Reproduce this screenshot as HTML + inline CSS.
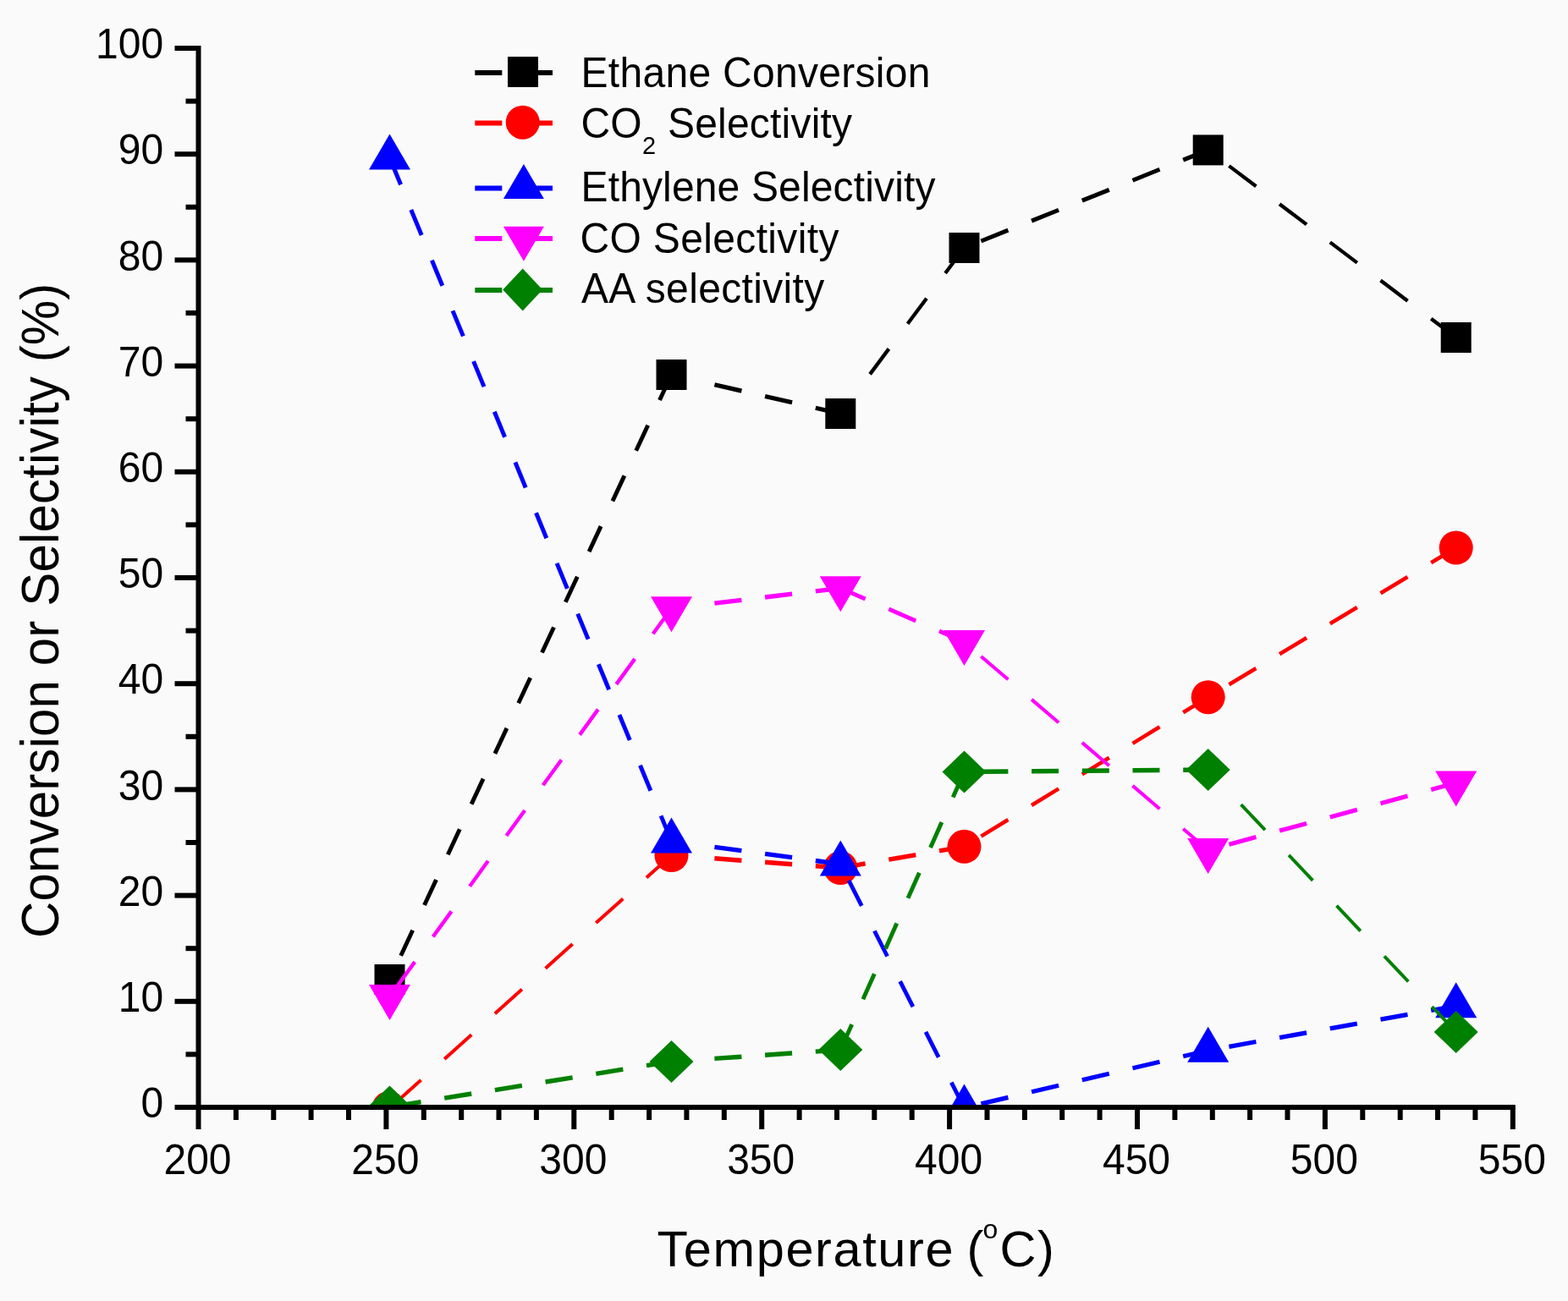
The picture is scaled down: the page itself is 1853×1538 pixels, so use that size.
<!DOCTYPE html>
<html><head><meta charset="utf-8"><title>Ethane conversion and product selectivity vs temperature</title>
<style>
html,body{margin:0;padding:0;background:#fafafa;}
body{width:1853px;height:1538px;overflow:hidden;}
svg{display:block;}
text{font-family:'Liberation Sans', Arial, sans-serif;fill:#000;}
</style></head><body>
<svg width="1853" height="1538" viewBox="0 0 1853 1538">
<rect width="1853" height="1538" fill="#fafafa"/>
<defs><clipPath id="plot"><rect x="234.5" y="0" width="1557.3" height="1309"/></clipPath></defs>
<g clip-path="url(#plot)">
<g fill="none" stroke="#000000"><path d="M793.5 443L779.5 473M765.7 502.7L751.7 532.7M737.9 562.4L723.9 592.4M710.1 622.1L696.1 652.1M682.3 681.8L668.3 711.8M654.5 741.5L640.5 771.5M626.7 801.2L612.7 831.2M598.9 860.9L584.9 890.9M571.1 920.6L557.1 950.6M543.3 980.3L529.3 1010.3M515.5 1040L501.5 1070M487.7 1099.7L473.7 1129.7" stroke-width="4.90"/><path d="M993.3 489L963.8 482.2M936.1 475.8L904.1 468.5M876.4 462.1L844.4 454.7" stroke-width="5.26"/><path d="M1139.5 293L1117.1 323M1095 352.7L1072.6 382.7M1050.4 412.4L1028.1 442.4" stroke-width="4.33"/><path d="M1427.7 177.4L1398.2 189.2M1370.5 200.3L1338.5 213.2M1310.8 224.3L1278.8 237.1M1251.1 248.2L1219.1 261.1M1191.4 272.2L1159.4 285" stroke-width="5.01"/><path d="M1720.7 399L1691.2 376.7M1663.5 355.7L1631.5 331.5M1603.8 310.6L1571.8 286.4M1544.1 265.4L1512.1 241.2M1484.4 220.3L1452.4 196.1" stroke-width="4.31"/></g>
<g><rect x="442.5" y="1140" width="36" height="36" fill="#000000"/><rect x="775.5" y="425" width="36" height="36" fill="#000000"/><rect x="975.3" y="471" width="36" height="36" fill="#000000"/><rect x="1121.5" y="275" width="36" height="36" fill="#000000"/><rect x="1409.7" y="159.4" width="36" height="36" fill="#000000"/><rect x="1702.7" y="381" width="36" height="36" fill="#000000"/></g>
<g fill="none" stroke="#ff0000"><path d="M793.5 1011L764 1037.5M736.3 1062.4L704.3 1091.1M676.6 1116L644.6 1144.7M616.9 1169.6L584.9 1198.3M557.2 1223.2L525.2 1251.9M497.5 1276.8L465.5 1305.5" stroke-width="4.02"/><path d="M993.3 1026L963.8 1023.8M936.1 1021.7L904.1 1019.3M876.4 1017.2L844.4 1014.8" stroke-width="5.38"/><path d="M1139.5 1000.8L1110 1005.9M1082.3 1010.7L1050.3 1016.2M1022.6 1020.9L993.3 1026" stroke-width="5.32"/><path d="M1427.7 824.2L1398.2 842.3M1370.5 859.3L1338.5 878.9M1310.8 895.8L1278.8 915.4M1251.1 932.4L1219.1 952M1191.4 969L1159.4 988.6" stroke-width="4.60"/><path d="M1720.7 647.5L1691.2 665.3M1663.5 682L1631.5 701.3M1603.8 718L1571.8 737.3M1544.1 754L1512.1 773.3M1484.4 790L1452.4 809.3" stroke-width="4.62"/></g>
<g><circle cx="459.5" cy="1310" r="20" fill="#ff0000"/><circle cx="793.5" cy="1011" r="20" fill="#ff0000"/><circle cx="993.3" cy="1026" r="20" fill="#ff0000"/><circle cx="1139.5" cy="1000.8" r="20" fill="#ff0000"/><circle cx="1427.7" cy="824.2" r="20" fill="#ff0000"/><circle cx="1720.7" cy="647.5" r="20" fill="#ff0000"/></g>
<g fill="none" stroke="#0000ff"><path d="M793.5 994.4L781.1 964.4M768.9 934.7L756.5 904.7M744.3 875L731.9 845M719.7 815.3L707.3 785.3M695.1 755.6L682.7 725.6M670.4 695.9L658.1 665.9M645.8 636.2L633.5 606.2M621.2 576.5L608.9 546.5M596.6 516.8L584.3 486.8M572 457.1L559.6 427.1M547.4 397.4L535 367.4M522.8 337.7L510.4 307.7M498.2 278L485.8 248M473.6 218.3L461.2 188.3" stroke-width="4.99"/><path d="M993.3 1021.5L963.8 1017.5M936.1 1013.7L904.1 1009.4M876.4 1005.6L844.4 1001.3" stroke-width="5.35"/><path d="M1139.5 1309.6L1124.3 1279.6M1109.2 1249.9L1094 1219.9M1078.9 1190.2L1063.7 1160.2M1048.6 1130.5L1033.4 1100.5M1018.3 1070.8L1003.1 1040.8" stroke-width="4.82"/><path d="M1427.7 1241.7L1398.2 1248.7M1370.5 1255.2L1338.5 1262.7M1310.8 1269.2L1278.8 1276.8M1251.1 1283.3L1219.1 1290.8M1191.4 1297.4L1159.4 1304.9" stroke-width="5.26"/><path d="M1720.7 1189.2L1691.2 1194.5M1663.5 1199.4L1631.5 1205.2M1603.8 1210.1L1571.8 1215.9M1544.1 1220.8L1512.1 1226.6M1484.4 1231.5L1452.4 1237.3" stroke-width="5.32"/></g>
<g><polygon points="460.5,158.6 485,200.6 436,200.6" fill="#0000ff"/><polygon points="793.5,966.4 818,1008.4 769,1008.4" fill="#0000ff"/><polygon points="993.3,993.5 1017.8,1035.5 968.8,1035.5" fill="#0000ff"/><polygon points="1139.5,1281.6 1164,1323.6 1115,1323.6" fill="#0000ff"/><polygon points="1427.7,1213.7 1452.2,1255.7 1403.2,1255.7" fill="#0000ff"/><polygon points="1720.7,1161.2 1745.2,1203.2 1696.2,1203.2" fill="#0000ff"/></g>
<g fill="none" stroke="#ff00ff"><path d="M793.5 719.2L771.7 749.2M750.2 778.9L728.4 808.9M706.8 838.6L685.1 868.6M663.5 898.3L641.7 928.3M620.2 958L598.4 988M576.8 1017.7L555.1 1047.7M533.5 1077.4L511.7 1107.4M490.2 1137.1L468.4 1167.1" stroke-width="4.37"/><path d="M993.3 695.3L963.8 698.8M936.1 702.1L904.1 706M876.4 709.3L844.4 713.1" stroke-width="5.36"/><path d="M1139.5 759L1110 746.1M1082.3 734.1L1050.3 720.1M1022.6 708.1L993.3 695.3" stroke-width="4.95"/><path d="M1427.7 1005L1398.2 979.8M1370.5 956.2L1338.5 928.9M1310.8 905.2L1278.8 877.9M1251.1 854.3L1219.1 826.9M1191.4 803.3L1159.4 776" stroke-width="4.11"/><path d="M1720.7 925.6L1691.2 933.6M1663.5 941.1L1631.5 949.8M1603.8 957.3L1571.8 966M1544.1 973.5L1512.1 982.1M1484.4 989.6L1452.4 998.3" stroke-width="5.21"/></g>
<g><polygon points="460.5,1206 485,1164 436,1164" fill="#ff00ff"/><polygon points="793.5,747.2 818,705.2 769,705.2" fill="#ff00ff"/><polygon points="993.3,723.3 1017.8,681.3 968.8,681.3" fill="#ff00ff"/><polygon points="1139.5,787 1164,745 1115,745" fill="#ff00ff"/><polygon points="1427.7,1033 1452.2,991 1403.2,991" fill="#ff00ff"/><polygon points="1720.7,953.6 1745.2,911.6 1696.2,911.6" fill="#ff00ff"/></g>
<g fill="none" stroke="#008000"><path d="M793.5 1255L764 1259.7M736.3 1264.2L704.3 1269.4M676.6 1273.8L644.6 1279M616.9 1283.4L584.9 1288.6M557.2 1293L525.2 1298.2M497.5 1302.6L465.5 1307.8" stroke-width="5.33"/><path d="M993.3 1241L963.8 1243.1M936.1 1245L904.1 1247.3M876.4 1249.2L844.4 1251.4" stroke-width="5.39"/><path d="M1139.5 912.4L1126.2 942.4M1112.9 972.1L1099.6 1002.1M1086.4 1031.8L1073 1061.8M1059.8 1091.5L1046.5 1121.5M1033.3 1151.2L1019.9 1181.2M1006.7 1210.9L993.3 1240.9" stroke-width="4.93"/><path d="M1427.7 910L1398.2 910.2M1370.5 910.5L1338.5 910.7M1310.8 911L1278.8 911.2M1251.1 911.5L1219.1 911.7M1191.4 912L1159.4 912.2" stroke-width="5.40"/><path d="M1720.7 1220L1692.3 1190M1664.3 1160.3L1635.9 1130.3M1607.8 1100.6L1579.5 1070.6M1551.4 1040.9L1523.1 1010.9M1495 981.2L1466.6 951.2" stroke-width="3.92"/></g>
<g><polygon points="460.5,1283.6 486.5,1308.6 460.5,1333.6 434.5,1308.6" fill="#008000"/><polygon points="793.5,1230 819.5,1255 793.5,1280 767.5,1255" fill="#008000"/><polygon points="993.3,1216 1019.3,1241 993.3,1266 967.3,1241" fill="#008000"/><polygon points="1139.5,887.4 1165.5,912.4 1139.5,937.4 1113.5,912.4" fill="#008000"/><polygon points="1427.7,885 1453.7,910 1427.7,935 1401.7,910" fill="#008000"/><polygon points="1720.7,1195 1746.7,1220 1720.7,1245 1694.7,1220" fill="#008000"/></g>
</g>
<g stroke="#000" stroke-width="6"><line x1="234.5" y1="54" x2="234.5" y2="1312"/><line x1="231.5" y1="1309" x2="1790.8" y2="1309"/><line x1="206.5" y1="1309" x2="234.5" y2="1309"/><line x1="219.5" y1="1246.4" x2="234.5" y2="1246.4"/><line x1="206.5" y1="1183.8" x2="234.5" y2="1183.8"/><line x1="219.5" y1="1121.2" x2="234.5" y2="1121.2"/><line x1="206.5" y1="1058.6" x2="234.5" y2="1058.6"/><line x1="219.5" y1="996" x2="234.5" y2="996"/><line x1="206.5" y1="933.4" x2="234.5" y2="933.4"/><line x1="219.5" y1="870.8" x2="234.5" y2="870.8"/><line x1="206.5" y1="808.2" x2="234.5" y2="808.2"/><line x1="219.5" y1="745.6" x2="234.5" y2="745.6"/><line x1="206.5" y1="683" x2="234.5" y2="683"/><line x1="219.5" y1="620.4" x2="234.5" y2="620.4"/><line x1="206.5" y1="557.8" x2="234.5" y2="557.8"/><line x1="219.5" y1="495.2" x2="234.5" y2="495.2"/><line x1="206.5" y1="432.6" x2="234.5" y2="432.6"/><line x1="219.5" y1="370" x2="234.5" y2="370"/><line x1="206.5" y1="307.4" x2="234.5" y2="307.4"/><line x1="219.5" y1="244.8" x2="234.5" y2="244.8"/><line x1="206.5" y1="182.2" x2="234.5" y2="182.2"/><line x1="219.5" y1="119.6" x2="234.5" y2="119.6"/><line x1="206.5" y1="57" x2="234.5" y2="57"/><line x1="234.5" y1="1309" x2="234.5" y2="1335"/><line x1="278.9" y1="1309" x2="278.9" y2="1324"/><line x1="323.3" y1="1309" x2="323.3" y2="1324"/><line x1="367.6" y1="1309" x2="367.6" y2="1324"/><line x1="412" y1="1309" x2="412" y2="1324"/><line x1="456.4" y1="1309" x2="456.4" y2="1335"/><line x1="500.8" y1="1309" x2="500.8" y2="1324"/><line x1="545.2" y1="1309" x2="545.2" y2="1324"/><line x1="589.5" y1="1309" x2="589.5" y2="1324"/><line x1="633.9" y1="1309" x2="633.9" y2="1324"/><line x1="678.3" y1="1309" x2="678.3" y2="1335"/><line x1="722.7" y1="1309" x2="722.7" y2="1324"/><line x1="767.1" y1="1309" x2="767.1" y2="1324"/><line x1="811.4" y1="1309" x2="811.4" y2="1324"/><line x1="855.8" y1="1309" x2="855.8" y2="1324"/><line x1="900.2" y1="1309" x2="900.2" y2="1335"/><line x1="944.6" y1="1309" x2="944.6" y2="1324"/><line x1="989" y1="1309" x2="989" y2="1324"/><line x1="1033.3" y1="1309" x2="1033.3" y2="1324"/><line x1="1077.7" y1="1309" x2="1077.7" y2="1324"/><line x1="1122.1" y1="1309" x2="1122.1" y2="1335"/><line x1="1166.5" y1="1309" x2="1166.5" y2="1324"/><line x1="1210.9" y1="1309" x2="1210.9" y2="1324"/><line x1="1255.2" y1="1309" x2="1255.2" y2="1324"/><line x1="1299.6" y1="1309" x2="1299.6" y2="1324"/><line x1="1344" y1="1309" x2="1344" y2="1335"/><line x1="1388.4" y1="1309" x2="1388.4" y2="1324"/><line x1="1432.8" y1="1309" x2="1432.8" y2="1324"/><line x1="1477.1" y1="1309" x2="1477.1" y2="1324"/><line x1="1521.5" y1="1309" x2="1521.5" y2="1324"/><line x1="1565.9" y1="1309" x2="1565.9" y2="1335"/><line x1="1610.3" y1="1309" x2="1610.3" y2="1324"/><line x1="1654.7" y1="1309" x2="1654.7" y2="1324"/><line x1="1699" y1="1309" x2="1699" y2="1324"/><line x1="1743.4" y1="1309" x2="1743.4" y2="1324"/><line x1="1787.8" y1="1309" x2="1787.8" y2="1335"/></g>
<text transform="translate(193.2,1321.2) scale(1.0000,1.0600)" font-size="48" text-anchor="end">0</text>
<text transform="translate(193.2,1196) scale(1.0000,1.0600)" font-size="48" text-anchor="end">10</text>
<text transform="translate(193.2,1070.8) scale(1.0000,1.0600)" font-size="48" text-anchor="end">20</text>
<text transform="translate(193.2,945.6) scale(1.0000,1.0600)" font-size="48" text-anchor="end">30</text>
<text transform="translate(193.2,820.4) scale(1.0000,1.0600)" font-size="48" text-anchor="end">40</text>
<text transform="translate(193.2,695.2) scale(1.0000,1.0600)" font-size="48" text-anchor="end">50</text>
<text transform="translate(193.2,570) scale(1.0000,1.0600)" font-size="48" text-anchor="end">60</text>
<text transform="translate(193.2,444.8) scale(1.0000,1.0600)" font-size="48" text-anchor="end">70</text>
<text transform="translate(193.2,319.6) scale(1.0000,1.0600)" font-size="48" text-anchor="end">80</text>
<text transform="translate(193.2,194.4) scale(1.0000,1.0600)" font-size="48" text-anchor="end">90</text>
<text transform="translate(193.2,69.2) scale(1.0000,1.0600)" font-size="48" text-anchor="end">100</text>
<text transform="translate(233.5,1388.2) scale(1.0000,1.0600)" font-size="48" text-anchor="middle">200</text>
<text transform="translate(455.4,1388.2) scale(1.0000,1.0600)" font-size="48" text-anchor="middle">250</text>
<text transform="translate(677.3,1388.2) scale(1.0000,1.0600)" font-size="48" text-anchor="middle">300</text>
<text transform="translate(899.2,1388.2) scale(1.0000,1.0600)" font-size="48" text-anchor="middle">350</text>
<text transform="translate(1121.1,1388.2) scale(1.0000,1.0600)" font-size="48" text-anchor="middle">400</text>
<text transform="translate(1343,1388.2) scale(1.0000,1.0600)" font-size="48" text-anchor="middle">450</text>
<text transform="translate(1564.9,1388.2) scale(1.0000,1.0600)" font-size="48" text-anchor="middle">500</text>
<text transform="translate(1786.8,1388.2) scale(1.0000,1.0600)" font-size="48" text-anchor="middle">550</text>
<text transform="translate(776.5,1496.9)" font-size="59.5" letter-spacing="1.60">Temperature</text>
<text transform="translate(1142.5,1496.9)" font-size="59.5">(</text>
<text transform="translate(1161.5,1464)" font-size="32">o</text>
<text transform="translate(1181.5,1496.9)" font-size="59.5">C</text>
<text transform="translate(1226,1496.9)" font-size="59.5">)</text>
<text transform="translate(68.5,721.7) rotate(-90) scale(1.0000,1.0500)" font-size="60" text-anchor="middle" letter-spacing="0.15">Conversion or Selectivity (%)</text>
<path d="M653 86L621 86M593.3 86L561.3 86" fill="none" stroke="#000000" stroke-width="6.00"/>
<rect x="600" y="67" width="36" height="36" fill="#000000"/>
<path d="M653 145.5L621 145.5M593.3 145.5L561.3 145.5" fill="none" stroke="#ff0000" stroke-width="6.00"/>
<circle cx="617.7" cy="144.7" r="20" fill="#ff0000"/>
<path d="M653 222.5L621 222.5M593.3 222.5L561.3 222.5" fill="none" stroke="#0000ff" stroke-width="6.00"/>
<polygon points="618.9,194.1 642.9,235.1 594.9,235.1" fill="#0000ff"/>
<path d="M653 282L621 282M593.3 282L561.3 282" fill="none" stroke="#ff00ff" stroke-width="6.00"/>
<polygon points="618.9,308.8 642.9,267.8 594.9,267.8" fill="#ff00ff"/>
<path d="M653 342.9L621 342.9M593.3 342.9L561.3 342.9" fill="none" stroke="#008000" stroke-width="6.00"/>
<polygon points="617.7,317.5 641.2,342.5 617.7,367.5 594.2,342.5" fill="#008000"/>
<text transform="translate(686.5,102.9) scale(1.0000,1.0500)" font-size="48" letter-spacing="0.30">Ethane Conversion</text>
<text transform="translate(686.6,162.9) scale(1.0000,1.0500)" font-size="48">CO</text>
<text transform="translate(759,182.4)" font-size="29">2</text>
<text transform="translate(789,162.9) scale(1.0000,1.0500)" font-size="48" letter-spacing="0.20">Selectivity</text>
<text transform="translate(686.5,238.3) scale(1.0000,1.0500)" font-size="48" letter-spacing="0.15">Ethylene Selectivity</text>
<text transform="translate(685.5,298.8) scale(1.0000,1.0500)" font-size="48" letter-spacing="0.35">CO Selectivity</text>
<text transform="translate(687,358.2) scale(1.0000,1.0500)" font-size="48" letter-spacing="0.35">AA selectivity</text>
</svg>
</body></html>
